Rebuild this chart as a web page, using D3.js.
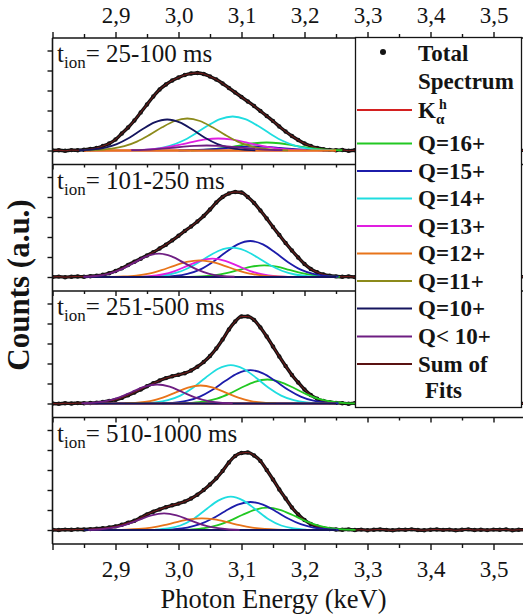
<!DOCTYPE html>
<html><head><meta charset="utf-8">
<script src="https://cdn.jsdelivr.net/npm/d3@7"></script>
</head><body style="margin:0">
<svg id="c" width="523" height="615"></svg>
<script>
// ---------- data ----------
const panelLabels = ["25-100 ms", "101-250 ms", "251-500 ms", "510-1000 ms"];
const majorTicks = [2.8, 2.9, 3.0, 3.1, 3.2, 3.3, 3.4, 3.5];
const minorTicks = [2.85, 2.95, 3.05, 3.15, 3.25, 3.35, 3.45, 3.55];
const yTicks = [0, 20, 40, 60, 80, 100];
const seriesNames = ["Kα^h", "Q=16+", "Q=15+", "Q=14+", "Q=13+", "Q=12+", "Q=11+", "Q=10+", "Q< 10+"];
const seriesColors = ["#d42020", "#22c822", "#1c1caa", "#1fdde0", "#e01ee0", "#e8741a", "#8c8a1a", "#15155e", "#6e1e82"];
const sumColor = "#8a1c1c";

const energy = [2.80,2.81,2.82,2.83,2.84,2.85,2.86,2.87,2.88,2.89,2.90,2.91,2.92,2.93,2.94,2.95,2.96,2.97,2.98,2.99,
3.00,3.01,3.02,3.03,3.04,3.05,3.06,3.07,3.08,3.09,3.10,3.11,3.12,3.13,3.14,3.15,3.16,3.17,3.18,3.19,
3.20,3.21,3.22,3.23,3.24,3.25,3.26,3.27,3.28,3.29,3.30,3.31,3.32,3.33,3.34,3.35,3.36,3.37,3.38,3.39,
3.40,3.41,3.42,3.43,3.44,3.45,3.46,3.47,3.48,3.49,3.50,3.51,3.52,3.53,3.54,3.55];

const total1 = [0,.3,-.3,.4,.2,.8,1.5,2.5,4.5,7,11,17,23,30,38,46,54,61,66,70,73,75.5,77,77.5,76.5,74,71,67,62.5,58,53.5,49,44.5,39.5,34.5,29.5,24,19,14.5,10.5,7,4.5,2.5,1.3,.6,.3,
.5,-.2,.3,0,.4,-.3,.2,.5,0,-.4,.3,.1,-.2,.4,0,.3,-.3,.2,.5,0,-.2,.4,.1,-.3,.2,.4,-.1,.3,0,.2];
const total2 = [0,.4,-.2,.3,.5,.3,.8,1.3,2.2,3.8,6,8.8,12,15.3,18.3,21.5,24.8,28.5,32.3,36.6,41.2,46,50.5,55.5,61,67.5,74.5,80,83.5,85,84.5,80,74,66.5,58.5,50,42,34,26.5,19.5,13,8,4.8,2.5,1.2,.6,
.2,.5,-.1,.3,0,.4,-.3,.1,.3,-.2,.4,0,.2,-.3,.5,.1,-.1,.3,0,.4,-.2,.2,.5,-.1,.3,0,-.3,.2,.4,0];
const total3 = [0,-.3,.3,0,.4,.2,.5,.9,1.6,2.6,3.6,5.6,8.2,11,14,17.2,20.2,23,25.4,27.2,28.7,30.3,33,36.8,41.5,47.5,55,64,74,82,87,87,83.5,76,67,57,47,37.5,28.5,21,14,8.5,4.8,2.5,1.2,.6,
.3,-.2,.4,.1,-.3,.2,.5,0,.3,-.1,.2,.4,-.2,.1,.3,0,-.3,.4,.2,-.1,.3,.5,0,-.2,.3,.1,.4,-.2,.2,0];
const total4 = [.3,0,.4,.2,.6,.5,.9,1.2,1.7,2.6,3.6,5.3,7.3,9.2,12.4,15.6,18.3,20.6,22.8,24.7,26.4,28.5,31.5,35.3,40,45.5,51.7,59,67.5,74,77,77.5,74.5,69,60,50.5,40.5,31.5,22.5,15.5,10,6,3.5,1.8,1,.5,
.3,.6,0,.4,-.2,.3,.5,.1,-.3,.4,.2,.6,0,-.2,.3,.5,.1,.4,-.3,.2,.6,0,.3,-.1,.4,.2,.5,-.2,.3,.1];

// fitted components, [energy keV, counts] in legend order
const fits1 = [
 [[2.85,0],[3.25,0]],
 [[3.02,.23],[3.04,.68],[3.06,1.65],[3.08,3.29],[3.10,5.38],[3.12,7.25],[3.14,8],[3.16,7.25],[3.18,5.38],[3.20,3.29],[3.22,1.65],[3.24,.68],[3.26,.23]],
 [[3.00,.12],[3.02,.34],[3.04,.82],[3.06,1.64],[3.08,2.69],[3.10,3.62],[3.12,4],[3.14,3.62],[3.16,2.69],[3.18,1.64],[3.20,.82],[3.22,.34],[3.24,.12]],
 [[2.926,.2],[2.946,.68],[2.966,1.9],[2.986,4.6],[3.006,9.45],[3.026,16.6],[3.046,24.7],[3.066,31.4],[3.086,34],[3.106,31.4],[3.126,24.7],[3.146,16.6],[3.166,9.45],[3.186,4.6],[3.206,1.9],[3.226,.68],[3.246,.2]],
 [[2.923,.24],[2.943,.67],[2.963,1.6],[2.983,3.3],[3.003,5.8],[3.023,8.7],[3.043,11.1],[3.063,12],[3.083,11.1],[3.103,8.7],[3.123,5.8],[3.143,3.3],[3.163,1.6],[3.183,.67],[3.203,.24]],
 [[2.85,0],[3.25,0]],
 [[2.854,.2],[2.874,.64],[2.894,1.8],[2.914,4.3],[2.934,8.9],[2.954,15.6],[2.974,23.2],[2.994,29.5],[3.014,32],[3.034,29.5],[3.054,23.2],[3.074,15.6],[3.094,8.9],[3.114,4.3],[3.134,1.8],[3.154,.64],[3.174,.2]],
 [[2.842,.25],[2.862,.9],[2.882,2.6],[2.902,6.4],[2.922,12.7],[2.942,20.9],[2.962,28.1],[2.982,31],[3.002,28.1],[3.022,20.9],[3.042,12.7],[3.062,6.4],[3.082,2.6],[3.102,.9],[3.122,.25]],
 [[2.925,.28],[2.945,.7],[2.965,1.4],[2.985,2.4],[3.005,3.6],[3.025,4.6],[3.045,5],[3.065,4.6],[3.085,3.6],[3.105,2.4],[3.125,1.4],[3.145,.7],[3.165,.28]]
];
const fits2 = [
 [[2.85,0],[3.25,0]],
 [[3.016,.13],[3.036,.5],[3.056,1.6],[3.076,3.8],[3.096,7.1],[3.116,10.3],[3.136,11.7],[3.156,10.3],[3.176,7.1],[3.196,3.8],[3.216,1.6],[3.236,.5],[3.256,.13]],
 [[2.974,.29],[2.994,1.0],[3.014,3.1],[3.034,7.4],[3.054,14.8],[3.074,24.2],[3.094,32.6],[3.114,36],[3.134,32.6],[3.154,24.2],[3.174,14.8],[3.194,7.4],[3.214,3.1],[3.234,1.0],[3.254,.29]],
 [[2.945,.23],[2.965,.85],[2.985,2.5],[3.005,6.0],[3.025,12.0],[3.045,19.7],[3.065,26.5],[3.085,29.3],[3.105,26.5],[3.125,19.7],[3.145,12.0],[3.165,6.0],[3.185,2.5],[3.205,.85],[3.225,.23]],
 [[2.934,.2],[2.954,.8],[2.974,2.5],[2.994,5.9],[3.014,11.1],[3.034,16.2],[3.054,18.3],[3.074,16.2],[3.094,11.1],[3.114,5.9],[3.134,2.5],[3.154,.8],[3.174,.2]],
 [[2.893,.13],[2.913,.48],[2.933,1.4],[2.953,3.4],[2.973,6.9],[2.993,11.2],[3.013,15.1],[3.033,16.7],[3.053,15.1],[3.073,11.2],[3.093,6.9],[3.113,3.4],[3.133,1.4],[3.153,.48],[3.173,.13]],
 [[2.85,0],[3.25,0]],
 [[2.85,0],[3.25,0]],
 [[2.849,.26],[2.869,1.0],[2.889,3.15],[2.909,7.6],[2.929,14.1],[2.949,20.6],[2.969,23.3],[2.989,20.6],[3.009,14.1],[3.029,7.6],[3.049,3.15],[3.069,1.0],[3.089,.26]]
];
const fits3 = [
 [[2.85,0],[3.25,0]],
 [[3.001,.19],[3.021,.7],[3.041,2.0],[3.061,4.9],[3.081,9.9],[3.101,16.2],[3.121,21.7],[3.141,24],[3.161,21.7],[3.181,16.2],[3.201,9.9],[3.221,4.9],[3.241,2.0],[3.261,.7],[3.281,.19]],
 [[2.974,.27],[2.994,.97],[3.014,2.8],[3.034,6.9],[3.054,13.7],[3.074,22.4],[3.094,30.2],[3.114,33.3],[3.134,30.2],[3.154,22.4],[3.174,13.7],[3.194,6.9],[3.214,2.8],[3.234,.97],[3.254,.27]],
 [[2.943,.31],[2.963,1.1],[2.983,3.3],[3.003,7.9],[3.023,15.7],[3.043,25.8],[3.063,34.7],[3.083,38.3],[3.103,34.7],[3.123,25.8],[3.143,15.7],[3.163,7.9],[3.183,3.3],[3.203,1.1],[3.223,.31]],
 [[2.85,0],[3.25,0]],
 [[2.915,.2],[2.935,.79],[2.955,2.4],[2.975,5.85],[2.995,10.9],[3.015,15.9],[3.035,18],[3.055,15.9],[3.075,10.9],[3.095,5.85],[3.115,2.4],[3.135,.79],[3.155,.2]],
 [[2.85,0],[3.25,0]],
 [[2.85,0],[3.25,0]],
 [[2.846,.21],[2.866,.84],[2.886,2.6],[2.906,6.2],[2.926,11.5],[2.946,16.8],[2.966,19],[2.986,16.8],[3.006,11.5],[3.026,6.2],[3.046,2.6],[3.066,.84],[3.086,.21]]
];
const fits4 = [
 [[2.85,0],[3.25,0]],
 [[3.001,.18],[3.021,.65],[3.041,1.9],[3.061,4.6],[3.081,9.2],[3.101,15.0],[3.121,20.2],[3.141,22.3],[3.161,20.2],[3.181,15.0],[3.201,9.2],[3.221,4.6],[3.241,1.9],[3.261,.65],[3.281,.18]],
 [[2.974,.22],[2.994,.81],[3.014,2.4],[3.034,5.8],[3.054,11.5],[3.074,18.8],[3.094,25.4],[3.114,28],[3.134,25.4],[3.154,18.8],[3.174,11.5],[3.194,5.8],[3.214,2.4],[3.234,.81],[3.254,.22]],
 [[2.963,.37],[2.983,1.5],[3.003,4.5],[3.023,10.8],[3.043,20.2],[3.063,29.4],[3.083,33.3],[3.103,29.4],[3.123,20.2],[3.143,10.8],[3.163,4.5],[3.183,1.5],[3.203,.37]],
 [[2.85,0],[3.25,0]],
 [[2.897,.09],[2.917,.34],[2.937,1.0],[2.957,2.4],[2.977,4.8],[2.997,7.9],[3.017,10.6],[3.037,11.7],[3.057,10.6],[3.077,7.9],[3.097,4.8],[3.117,2.4],[3.137,1.0],[3.157,.34],[3.177,.09]],
 [[2.85,0],[3.25,0]],
 [[2.85,0],[3.25,0]],
 [[2.857,.19],[2.877,.73],[2.897,2.3],[2.917,5.4],[2.937,10.1],[2.957,14.7],[2.977,16.7],[2.997,14.7],[3.017,10.1],[3.037,5.4],[3.057,2.3],[3.077,.73],[3.097,.19]]
];

// ---------- drawing ----------
const FONT = '"Liberation Serif", Tinos, "Times New Roman", Times, serif';
const INK = "#141414";
const svg = d3.select("#c").style("font-family", FONT);
const x = d3.scaleLinear().domain([2.8, 3.5]).range([52.5, 493.5]);
const PT = 38, PH = 126.5, XL = 52.5, XR = 540;
const fmt = d => d === 2.8 ? "" : d3.format(".1f")(d).replace(".", ",");
const totals = [total1, total2, total3, total4];
const fits = [fits1, fits2, fits3, fits4];

function addText(parent) {
  return parent.append("text").style("font-family", FONT).attr("fill", INK);
}
function styleAxis(g) {
  g.select(".domain").remove();
  g.attr("font-family", null).attr("font-size", null);
  g.selectAll(".tick line").attr("stroke", INK).attr("stroke-width", 1.4);
  g.selectAll(".tick text").style("font-family", FONT).style("font-size", "23px").attr("fill", INK);
}

panelLabels.forEach((lab, i) => {
  const top = PT + i * PH, bot = top + PH;
  const y = d3.scaleLinear().domain([-14, 112.5]).range([bot, top]);
  const cid = "clip" + i;
  svg.append("clipPath").attr("id", cid).append("rect")
    .attr("x", XL).attr("y", top).attr("width", XR - XL).attr("height", PH);
  const pg = svg.append("g").attr("clip-path", `url(#${cid})`);
  const line = d3.line().x(d => x(d[0])).y(d => y(d[1])).curve(d3.curveMonotoneX);
  const tot = energy.map((e, j) => [e, totals[i][j]]);

  pg.append("path").attr("d", line(tot)).attr("fill", "none").attr("stroke", INK).attr("stroke-width", 3.4);
  pg.append("g").selectAll("circle").data(tot).join("circle")
    .attr("cx", d => x(d[0])).attr("cy", d => y(d[1])).attr("r", 2.2).attr("fill", INK);
  pg.append("path").attr("d", line(tot)).attr("fill", "none").attr("stroke", sumColor).attr("stroke-width", 0.9);

  fits[i].forEach((s, k) => {
    pg.append("path").attr("d", line(s)).attr("fill", "none")
      .attr("stroke", seriesColors[k]).attr("stroke-width", 1.8);
  });

  svg.append("line").attr("x1", XL).attr("x2", XL).attr("y1", top).attr("y2", bot).attr("stroke", INK).attr("stroke-width", 1.6);
  svg.append("line").attr("x1", XL).attr("x2", XR).attr("y1", bot).attr("y2", bot).attr("stroke", INK).attr("stroke-width", 1.6);
  if (i === 0) svg.append("line").attr("x1", XL).attr("x2", XR).attr("y1", top).attr("y2", top).attr("stroke", INK).attr("stroke-width", 1.6);

  const last = i === 3;
  const gb = svg.append("g").attr("transform", `translate(0,${bot})`)
    .call(d3.axisBottom(x).tickValues(majorTicks).tickSize(last ? 6 : 5).tickFormat(last ? fmt : ""));
  styleAxis(gb);
  if (last) gb.selectAll(".tick text").attr("y", 33).attr("dy", 0);
  const gbm = svg.append("g").attr("transform", `translate(0,${bot})`)
    .call(d3.axisBottom(x).tickValues(minorTicks).tickSize(last ? 4 : 3).tickFormat(""));
  styleAxis(gbm);

  if (i === 0) {
    const gt = svg.append("g").attr("transform", `translate(0,${top})`)
      .call(d3.axisTop(x).tickValues(majorTicks).tickSize(6).tickFormat(fmt));
    styleAxis(gt);
    gt.selectAll(".tick text").attr("y", -15).attr("dy", 0);
    const gtm = svg.append("g").attr("transform", `translate(0,${top})`)
      .call(d3.axisTop(x).tickValues(minorTicks).tickSize(4).tickFormat(""));
    styleAxis(gtm);
  }

  const gl = svg.append("g").attr("transform", `translate(${XL},0)`)
    .call(d3.axisLeft(y).tickValues(yTicks).tickSize(5).tickFormat(""));
  styleAxis(gl);

  const t = addText(svg).attr("x", 57).attr("y", top + 24).style("font-size", "25px");
  t.append("tspan").text("t");
  t.append("tspan").style("font-size", "17px").attr("dy", 6).text("ion");
  t.append("tspan").attr("dy", -6).text("= " + lab);
});

addText(svg).attr("x", 273.5).attr("y", 608).attr("text-anchor", "middle")
  .style("font-size", "26.5px").text("Photon Energy (keV)");
addText(svg).attr("transform", "translate(29,285) rotate(-90)").attr("text-anchor", "middle")
  .style("font-size", "31px").style("font-weight", "bold").text("Counts (a.u.)");

const lg = svg.append("g");
lg.append("rect").attr("x", 355.5).attr("y", 37.5).attr("width", 166).attr("height", 370)
  .attr("fill", "#fff").attr("stroke", INK).attr("stroke-width", 1.3);
function ltext(xx, yy, s) {
  const el = addText(lg).attr("x", xx).attr("y", yy).style("font-size", "23px").style("font-weight", "bold");
  if (s) el.text(s);
  return el;
}
lg.append("circle").attr("cx", 383).attr("cy", 52).attr("r", 3).attr("fill", INK);
ltext(418, 61, "Total");
ltext(418, 88.5, "Spectrum");
const legendY = [110, 143.5, 171, 198.5, 226, 253.5, 281, 308.5, 336.5];
seriesNames.forEach((n, k) => {
  lg.append("line").attr("x1", 357).attr("x2", 412).attr("y1", legendY[k]).attr("y2", legendY[k])
    .attr("stroke", seriesColors[k]).attr("stroke-width", 2.2);
  if (k === 0) {
    const el = ltext(418, 118);
    el.append("tspan").text("K");
    el.append("tspan").style("font-size", "15px").attr("x", 436).attr("y", 124).text("α");
    el.append("tspan").style("font-size", "14px").attr("x", 439).attr("y", 109).text("h");
  } else {
    ltext(418, legendY[k] + 7.5, n);
  }
});
lg.append("line").attr("x1", 357).attr("x2", 412).attr("y1", 364).attr("y2", 364)
  .attr("stroke", "#5a1212").attr("stroke-width", 2.2);
ltext(418, 371.5, "Sum of");
ltext(425, 398, "Fits");
</script>
</body></html>
